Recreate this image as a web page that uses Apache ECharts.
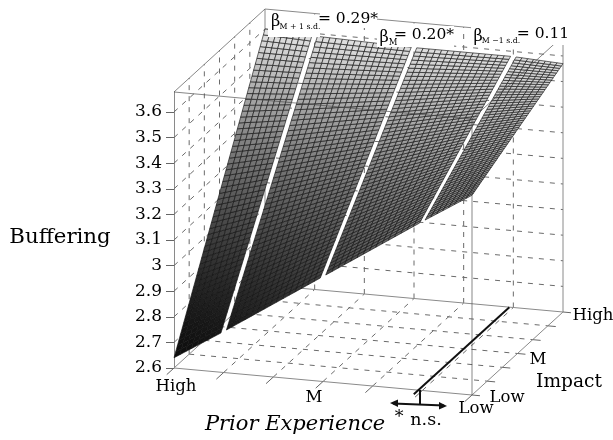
<!DOCTYPE html>
<html><head><meta charset="utf-8">
<style>html,body{margin:0;padding:0;background:#fff}#c{width:613px;height:440px;filter:blur(0.4px)}</style>
<script src="https://cdn.jsdelivr.net/npm/echarts@6/dist/echarts.min.js"></script></head>
<body><div id="c"></div>
<script>
const zTicks=[2.6,2.7,2.8,2.9,3.0,3.1,3.2,3.3,3.4,3.5,3.6];
const priorTicks=[0,1,2,3,4,5,6];
const impactTicks=[0,1,2,3,4,5,6];
const priorLabels=['High','M','Low'];
const impactLabels=['Low','M','High'];
// surface: rows = Impact Low/M/High, columns = Prior Experience position
const surfaceU=[0,1,3,5,6];
const surfaceV=[0,3,6];
const surfaceZLow=[2.64,2.76,3.01,3.26,3.38];
const surfaceZMid=[3.12,3.175,3.295,3.42,3.475];
const surfaceZHigh=[3.60,3.59,3.58,3.58,3.57];
const strips=[[0,0.945],[1.055,2.945],[3.055,4.945],[5.055,6]];
const zTop=3.678;
const annotU=4.92;

const surfaceRows=[surfaceZLow,surfaceZMid,surfaceZHigh];
const dirV=[91/6,-83/6], skewU=27/6;
function zAt(u,v){
  let i=0; while(i<surfaceU.length-2&&u>surfaceU[i+1]) i++;
  let j=v>3?1:0;
  const a=(u-surfaceU[i])/(surfaceU[i+1]-surfaceU[i]), b=(v-surfaceV[j])/(surfaceV[j+1]-surfaceV[j]);
  const r0=surfaceRows[j], r1=surfaceRows[j+1];
  return (r0[i]*(1-a)+r0[i+1]*a)*(1-b)+(r1[i]*(1-a)+r1[i+1]*a)*b;
}
function proj(api,u,v,z){
  const c=api.coord([u,z]);
  return [c[0]+v*dirV[0], c[1]+u*skewU+v*dirV[1]];
}
function lineSeries(rows,style,z){
  return {type:'custom',coordinateSystem:'cartesian2d',clip:false,silent:true,z:z,data:rows,
    renderItem(p,api){
      const a=proj(api,api.value(0),api.value(1),api.value(2));
      const b=proj(api,api.value(3),api.value(4),api.value(5));
      return {type:'line',shape:{x1:a[0],y1:a[1],x2:b[0],y2:b[1]},style:Object.assign({fill:null},style)};
    }};
}
const base=zTicks[0];
const dashed=[];
priorTicks.slice(1,-1).forEach(k=>{
  dashed.push([k,0,base,k,6,base]);      // floor
  dashed.push([k,6,base,k,6,zTop]);      // back wall
});
impactTicks.slice(1,-1).forEach(k=>{
  dashed.push([0,k,base,6,k,base]);      // floor
  dashed.push([0,k,base,0,k,zTop]);      // left wall
});
zTicks.slice(1).forEach(t=>{
  dashed.push([0,0,t,0,6,t]);
  dashed.push([0,6,t,6,6,t]);
});
const frameBack=[[0,0,base,6,0,base],[6,0,base,6,6,base],[0,6,base,6,6,base],[0,0,base,0,6,base],
  [0,6,base,0,6,zTop],[6,6,base,6,6,zTop],[0,6,zTop,6,6,zTop]];
const tickRows=[];
priorTicks.forEach(k=>tickRows.push([k,0,base,k,-0.48,base]));
impactTicks.forEach(k=>tickRows.push([6,k,base,6.16,k,base]));
const frameFront=[[6,0,base,6,0,zTop],[0,0,zTop,6,0,zTop],[6,0,zTop,6,6,zTop],[0,0,zTop,0,6,zTop]];
const annotLine=[[annotU,-0.3,base,annotU,6,base]];

function T(x,y,text,size,extra){
  return {type:'text',silent:true,z:100,style:Object.assign({x:x,y:y,text:text,fill:'#000',
    font:(extra&&extra.italic?'italic ':'')+size+'px "DejaVu Serif"',align:'center',verticalAlign:'middle'},extra||{})};
}
function L(t,x1,y1,x2,y2,w){return {type:'line',silent:true,z:100,shape:{x1,y1,x2,y2},style:{stroke:'#111',lineWidth:w}};}
const white=(x,y,w,h)=>({type:'rect',silent:true,z:90,shape:{x,y,width:w,height:h},style:{fill:'#fff'}});

const chart=echarts.init(document.getElementById('c'),null,{renderer:'canvas'});
chart.setOption({
  animation:false,
  grid:{left:174,top:92,width:298,height:276,containLabel:false},
  xAxis:{type:'value',min:0,max:6,show:false},
  yAxis:{type:'value',min:base,max:zTop,interval:0.1,
    axisLine:{show:true,lineStyle:{color:'#8a8a8a',width:1}},
    axisTick:{show:true,length:8,customValues:zTicks,lineStyle:{color:'#666',width:1}},
    axisLabel:{customValues:zTicks,margin:12,color:'#000',fontFamily:'DejaVu Serif',fontSize:17,
      padding:[0,0,8,0],formatter:v=>String(v)},
    splitLine:{show:false}},
  series:[
    lineSeries(dashed,{stroke:'#6a6a6a',lineWidth:1,lineDash:[5,6]},1),
    lineSeries(frameBack,{stroke:'#8a8a8a',lineWidth:1},2),
    lineSeries(tickRows,{stroke:'#666',lineWidth:1},2),
    {type:'custom',coordinateSystem:'cartesian2d',clip:false,silent:true,z:5,data:strips,
      renderItem(p,api){
        const u0=api.value(0),u1=api.value(1);
        const nu=Math.max(1,Math.round((u1-u0)*8)),nv=56,kids=[];
        for(let i=0;i<nu;i++)for(let j=0;j<nv;j++){
          const a=u0+(u1-u0)*i/nu,b=u0+(u1-u0)*(i+1)/nu,c=6*j/nv,d=6*(j+1)/nv;
          const zm=zAt((a+b)/2,(c+d)/2);
          const t=Math.max(0,Math.min(1,(zm-2.64)/0.96));
          const g=Math.round(14+Math.pow(t,1.5)*215);
          kids.push({type:'polygon',shape:{points:[
            proj(api,a,c,zAt(a,c)),proj(api,b,c,zAt(b,c)),proj(api,b,d,zAt(b,d)),proj(api,a,d,zAt(a,d))]},
            style:{fill:`rgb(${g},${g},${g})`,stroke:'rgba(20,20,20,0.85)',lineWidth:0.75}});
        }
        return {type:'group',children:kids};
      }},
    lineSeries(frameFront,{stroke:'rgba(70,70,70,0.65)',lineWidth:1},6),
    lineSeries(annotLine,{stroke:'#111',lineWidth:2},7)
  ],
  graphic:{elements:[
    T(60,237,'Buffering',21.3),
    T(295,425,'Prior Experience',21,{italic:true}),
    T(176,387,priorLabels[0],16.5),
    T(314,398,priorLabels[1],16.5),
    T(476,409,priorLabels[2],16.5),
    T(507,398,impactLabels[0],16.5),
    T(538,360,impactLabels[1],16.5),
    T(593,316,impactLabels[2],16.5),
    T(569,382,'Impact',18.6),
    L(0,420,390,420,404,2),
    L(0,393,403.5,444,405.5,2),
    {type:'polygon',silent:true,z:100,shape:{points:[[390,403],[398,399.5],[398,407]]},style:{fill:'#111'}},
    {type:'polygon',silent:true,z:100,shape:{points:[[447,406],[439,402],[439,409.5]]},style:{fill:'#111'}},
    T(399,417,'*',17.5),
    T(426,420,'n.s.',17.5),
    white(268,17,52,20),
    white(320,10,57,18),
    T(275.5,22,'β',16),
    T(300,27,'M + 1 s.d.',7.8),
    T(348,19,'= 0.29*',15.5),
    white(377,26,77,21),
    T(384,38,'β',16),
    T(393,43,'M',8.5),
    T(424,35,'= 0.20*',15.5),
    white(471,24,96,21),
    T(478,37,'β',16),
    T(501,41,'M −1 s.d.',7.8),
    T(543,34,'= 0.11',15.5)
  ]}
});
</script></body></html>
